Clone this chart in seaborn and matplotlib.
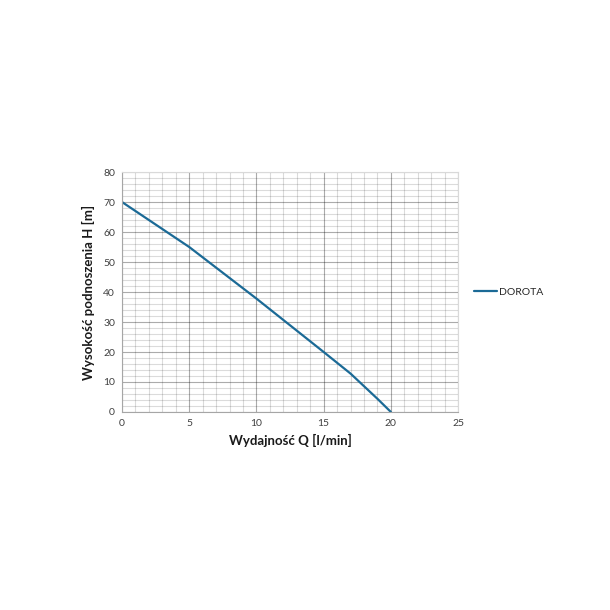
import matplotlib
matplotlib.use("Agg")
import matplotlib.pyplot as plt
import seaborn as sns
import pandas as pd
from matplotlib.ticker import MultipleLocator

flow = [0, 3, 5, 10, 15, 17, 18, 19, 20]
head = [70, 61, 55, 37.8, 20, 12.8, 8.6, 4.4, 0]
series_name = "DOROTA"
x_label = "Wydajność Q [l/min]"
y_label = "Wysokość podnoszenia H [m]"

df = pd.DataFrame({"Q": flow, "H": head, "series": series_name})

sns.set_theme(style="white")
plt.rcParams['font.family'] = ['Lato', 'DejaVu Sans']

fig = plt.figure(figsize=(6.1, 6.1), dpi=100)
ax = fig.add_axes([0.2, 0.3246, 0.551, 0.3934])

sns.lineplot(data=df, x="Q", y="H", hue="series", palette=["#1b6a96"], linewidth=1.6, ax=ax)

ax.set_xlim(0, 25)
ax.set_ylim(0, 80)
ax.xaxis.set_major_locator(MultipleLocator(5))
ax.xaxis.set_minor_locator(MultipleLocator(1))
ax.yaxis.set_major_locator(MultipleLocator(10))
ax.yaxis.set_minor_locator(MultipleLocator(2))
ax.grid(which="minor", color="black", alpha=0.14, linewidth=0.8, linestyle="-")
ax.grid(which="major", color="black", alpha=0.33, linewidth=0.8, linestyle="-")
ax.set_axisbelow(True)
for s in ["top", "right"]:
    ax.spines[s].set_color("#d9d9d9")
    ax.spines[s].set_linewidth(0.8)
for s in ["left", "bottom"]:
    ax.spines[s].set_color("#a6a6a6")
    ax.spines[s].set_linewidth(0.8)
ax.tick_params(which="both", length=0, labelsize=7.5, labelcolor="#404040", pad=5)

ax.set_xlabel(x_label, fontsize=9.5, fontweight="bold", color="#1a1a1a", labelpad=4)
ax.set_ylabel(y_label, fontsize=9.5, fontweight="bold", color="#1a1a1a", labelpad=6)

leg = ax.legend(loc="center left", bbox_to_anchor=(1.02, 0.5), frameon=False, fontsize=7.5,
                handlelength=2.2, handletextpad=0.2, title=None)

fig.savefig("out.png", dpi=100)
